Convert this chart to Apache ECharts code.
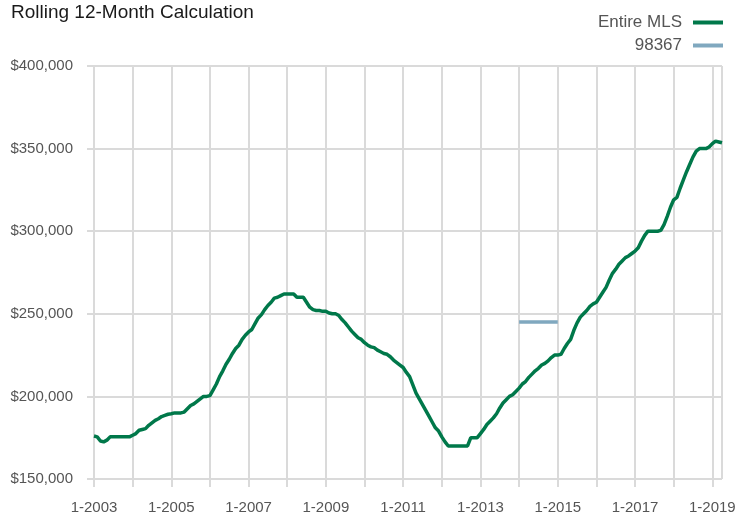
<!DOCTYPE html>
<html>
<head>
<meta charset="utf-8">
<script src="https://cdn.jsdelivr.net/npm/echarts@6/dist/echarts.min.js"></script>
<style>
html,body{margin:0;padding:0;background:#fff;}
#chart{width:748px;height:515px;}
</style>
</head>
<body>
<div id="chart"></div>
<script>
// Monthly categories: Jan 2003 .. Apr 2019
const startYear = 2003;
const months = [];
for (let y = startYear; y <= 2019; y++) {
  for (let m = 1; m <= 12; m++) {
    if (y === 2019 && m > 4) break;
    months.push(m + '-' + y);
  }
}

// Entire MLS, rolling 12-month median price
const entireMLS = [
  // 2003
  176000, 175500, 173000, 172500, 173500, 175500, 175500, 175500, 175500, 175500, 175500, 175500,
  // 2004
  176500, 177500, 179500, 180000, 180500, 182500, 184000, 185500, 186500, 187800, 188500, 189200,
  // 2005
  189500, 190000, 190000, 190000, 190500, 192500, 194500, 195500, 197000, 198500, 200000, 200000,
  // 2006
  200500, 204000, 207500, 212000, 215500, 219500, 222500, 226000, 229000, 231000, 234500, 237000,
  // 2007
  239000, 240500, 244000, 247500, 249500, 252500, 255000, 257000, 259500, 260000, 261000, 262000,
  // 2008
  262000, 262000, 262000, 260000, 260000, 260000, 257000, 254000, 252500, 252000, 252000, 251500,
  // 2009
  251500, 250500, 250000, 250000, 249000, 246500, 244500, 242000, 239500, 237500, 235500, 234500,
  // 2010
  232500, 231000, 230000, 229500, 228000, 227000, 226000, 225500, 224000, 222000, 220500, 219000,
  // 2011
  217500, 214500, 212000, 207000, 202000, 198500, 195000, 191500, 188000, 184500, 181000, 179000,
  // 2012
  175500, 172500, 170000, 170000, 170000, 170000, 170000, 170000, 170000, 175000, 175000, 175000,
  // 2013
  177500, 180000, 183000, 185000, 187000, 189500, 193000, 196000, 198000, 200000, 201000, 203000,
  // 2014
  205000, 207500, 209000, 211500, 213500, 215500, 217000, 219000, 220000, 221500, 223500, 225000,
  // 2015
  225000, 225500, 229000, 232000, 234500, 240000, 244500, 248000, 250000, 252000, 254500, 256000,
  // 2016
  257000, 260000, 263000, 266000, 270500, 274500, 277000, 280000, 282000, 284000, 285000, 286500,
  // 2017
  288000, 290000, 294000, 297500, 300000, 300000, 300000, 300000, 300500, 304000, 309000, 314500,
  // 2018
  319000, 320500, 326000, 331000, 336000, 340500, 345000, 348500, 350000, 350000, 350000, 351000,
  // 2019
  353000, 354500, 354000, 353500
];

// ZIP 98367 (only 2014 values shown)
const zipMonths = ['1-2014','2-2014','3-2014','4-2014','5-2014','6-2014','7-2014','8-2014','9-2014','10-2014','11-2014','12-2014','1-2015'];
const zipValues = [245000, 245000, 245000, 245000, 245000, 245000, 245000, 245000, 245000, 245000, 245000, 245000, 245000];

const yTicks = [150000, 200000, 250000, 300000, 350000, 400000];

const chart = echarts.init(document.getElementById('chart'), null, {renderer: 'canvas'});
const fontFam = "'Liberation Sans', Arial, sans-serif";
const gridColor = '#dadada';
const lastIdx = months.length - 1;

chart.setOption({
  animation: false,
  backgroundColor: '#fff',
  title: {
    text: 'Rolling 12-Month Calculation',
    left: 11, top: 3, padding: 0,
    textStyle: {fontFamily: fontFam, fontSize: 19, fontWeight: 'normal', color: '#1a1a1a'}
  },
  legend: {
    orient: 'vertical',
    right: 25, top: 14, padding: 0,
    align: 'right',
    itemWidth: 30, itemHeight: 4, itemGap: 6,
    icon: 'rect',
    textStyle: {fontFamily: fontFam, fontSize: 17, color: '#555', padding: [0, 6, 0, 0]},
    data: [
      {name: 'Entire MLS', itemStyle: {color: '#00784a'}},
      {name: '98367', itemStyle: {color: '#80a8bf'}}
    ]
  },
  grid: {left: 94, right: 26, top: 66, bottom: 36, containLabel: false},
  xAxis: {
    type: 'category',
    data: months,
    boundaryGap: false,
    axisLine: {show: false},
    axisTick: {show: true, length: 8, interval: (i) => i % 12 === 0, lineStyle: {color: gridColor, width: 2}},
    axisLabel: {
      interval: (i) => i % 24 === 0,
      margin: 21,
      fontFamily: fontFam, fontSize: 15, color: '#555'
    },
    splitLine: {show: true, interval: (i) => i % 12 === 0 || i === lastIdx, lineStyle: {color: gridColor, width: 2}}
  },
  yAxis: {
    type: 'value',
    min: yTicks[0], max: yTicks[yTicks.length - 1], interval: 50000,
    axisLine: {show: false},
    axisTick: {show: true, length: 7, lineStyle: {color: gridColor, width: 2}},
    axisLabel: {
      margin: 21,
      fontFamily: fontFam, fontSize: 15, color: '#555',
      formatter: (v) => '$' + v.toLocaleString('en-US')
    },
    splitLine: {show: true, lineStyle: {color: gridColor, width: 2}}
  },
  series: [
    {
      name: 'Entire MLS', type: 'line', data: entireMLS,
      symbol: 'none', smooth: false,
      lineStyle: {color: '#00784a', width: 3.5},
      itemStyle: {color: '#00784a'}, z: 3
    },
    {
      name: '98367', type: 'line', data: zipMonths.map((m, i) => [m, zipValues[i]]),
      symbol: 'none',
      lineStyle: {color: '#80a8bf', width: 3.5},
      itemStyle: {color: '#80a8bf'}, z: 2
    }
  ]
});
</script>
</body>
</html>
